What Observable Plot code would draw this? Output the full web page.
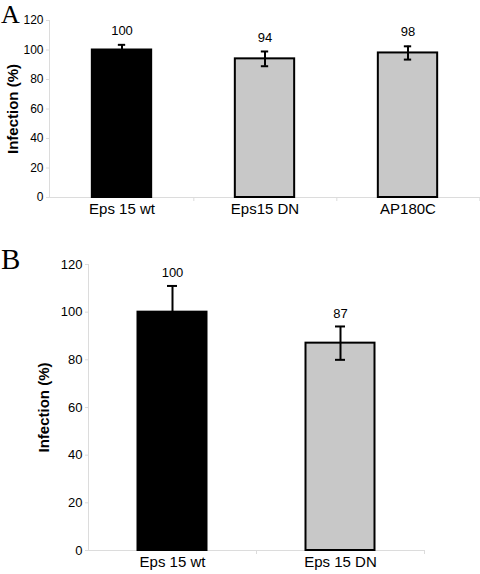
<!DOCTYPE html>
<html><head><meta charset="utf-8">
<script src="https://cdn.jsdelivr.net/npm/d3@7"></script>
<script src="https://cdn.jsdelivr.net/npm/@observablehq/plot@0.6"></script>
<style>
body{margin:0;background:#fff}
#root{position:relative;width:480px;height:574px;font-family:"Liberation Sans",Arial,sans-serif;color:#000}
.panel{position:absolute;left:0}
.letter{position:absolute;font-family:"Liberation Serif","Times New Roman",serif;line-height:1;color:#000}
</style></head><body>
<div id="root"></div>
<script>
// Panel A data
const catsA = ["Eps 15 wt", "Eps15 DN", "AP180C"];
const valsA = [100, 94, 98];
const errsA = [3.5, 5, 4.5];
const fillsA = ["#000000", "#c8c8c8", "#c8c8c8"];
// Panel B data
const catsB = ["Eps 15 wt", "Eps 15 DN"];
const valsB = [100, 87];
const errsB = [11, 7];
const fillsB = ["#000000", "#c8c8c8"];
// Shared
const yTicks = [0, 20, 40, 60, 80, 100, 120];
const yLabel = "Infection (%)";
const panelLetters = ["A", "B"];

function panel({cats, vals, errs, fills, width, height, mt, mb, ml, mr, barW, capW, labelDx, labelDy, tickFont, xFont, valFont, xPad}) {
  const data = cats.map((c, i) => ({cat: c, v: vals[i], e: errs[i], fill: fills[i]}));
  const step = (width - ml - mr) / cats.length;
  const barInset = (step - barW) / 2;
  const capInset = (step - capW) / 2;
  return Plot.plot({
    width, height,
    marginTop: mt, marginBottom: mb, marginLeft: ml, marginRight: mr,
    style: {fontFamily: '"Liberation Sans", Arial, sans-serif', color: "#000", background: "transparent", overflow: "visible"},
    x: {domain: cats, padding: 0, label: null},
    y: {domain: [0, 120], label: null},
    color: {type: "identity"},
    marks: [
      Plot.ruleY([0], {stroke: "#dcdcdc", strokeWidth: 1}),
      Plot.frame({anchor: "left", stroke: "#dcdcdc"}),
      Plot.ruleX(cats, {x: d => d, dx: step / 2, y1: 0, y2: 0, insetBottom: -4, stroke: "#dcdcdc"}),
      Plot.axisY({ticks: yTicks, tickSize: 3, tickPadding: 3, stroke: "#dcdcdc", fontSize: tickFont, label: null}),
      Plot.axisX({tickSize: 0, tickPadding: xPad, fontSize: xFont, label: null}),
      Plot.barY(data, {x: "cat", y: "v", fill: "fill", stroke: "#000", strokeWidth: 2, insetLeft: barInset, insetRight: barInset}),
      Plot.ruleX(data, {x: "cat", y1: d => d.v - d.e, y2: d => d.v + d.e, stroke: "#000", strokeWidth: 2}),
      Plot.tickY(data, {x: "cat", y: d => d.v + d.e, stroke: "#000", strokeWidth: 2, insetLeft: capInset, insetRight: capInset}),
      Plot.tickY(data, {x: "cat", y: d => d.v - d.e, stroke: "#000", strokeWidth: 2, insetLeft: capInset, insetRight: capInset}),
      Plot.text(data, {x: "cat", y: d => d.v + d.e, text: d => String(d.v), dy: labelDy, fontSize: valFont, fill: "#000"}),
      Plot.text([yLabel], {frameAnchor: "left", textAnchor: "middle", rotate: -90, dx: labelDx, fontSize: 15, fontWeight: "bold", fill: "#000"})
    ]
  });
}

const root = document.getElementById("root");

const a = panel({cats: catsA, vals: valsA, errs: errsA, fills: fillsA,
  width: 480, height: 225, mt: 20, mb: 28, ml: 49, mr: 0,
  barW: 60, capW: 8, labelDx: -36.5, labelDy: -14, tickFont: 12, xFont: 15, valFont: 13, xPad: 6});
a.classList.add("panel"); a.style.top = "0px";
root.appendChild(a);

const b = panel({cats: catsB, vals: valsB, errs: errsB, fills: fillsB,
  width: 480, height: 349, mt: 39, mb: 24, ml: 88, mr: 56,
  barW: 69, capW: 10, labelDx: -44, labelDy: -13, tickFont: 13, xFont: 15, valFont: 13, xPad: 6});
b.classList.add("panel"); b.style.top = "225px";
root.appendChild(b);

const la = document.createElement("div");
la.className = "letter"; la.textContent = panelLetters[0];
la.style.cssText += "left:1px;top:2px;font-size:26px;";
root.appendChild(la);
const lb = document.createElement("div");
lb.className = "letter"; lb.textContent = panelLetters[1];
lb.style.cssText += "left:1px;top:245px;font-size:29px;";
root.appendChild(lb);
</script>
</body></html>
